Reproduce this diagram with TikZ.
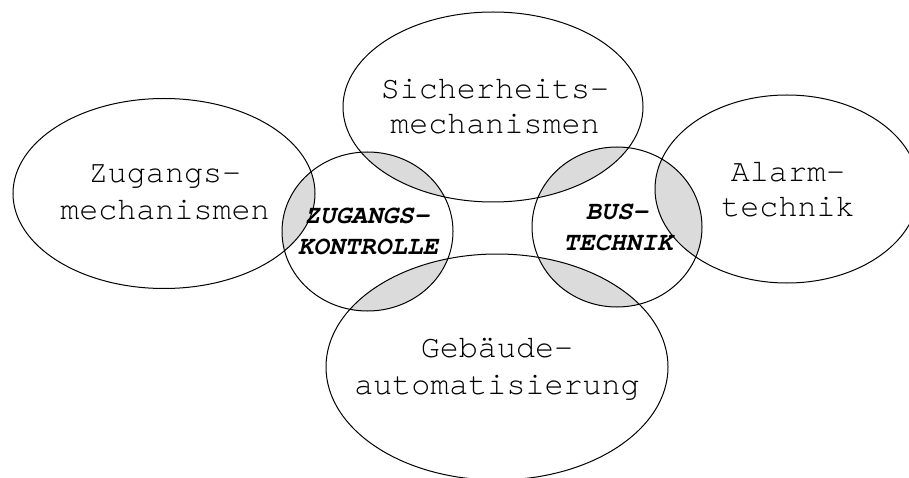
\documentclass[tikz,border=0pt]{standalone}
\usepackage{fontspec}
\setmonofont{TeX Gyre Cursor}
\tikzset{
  outline/.style={draw=black, line width=1pt},
  overlap/.style={fill=black!14},
  biglabel/.style={font=\ttfamily\fontsize{31.7}{36}\selectfont, anchor=base, inner sep=0pt},
  smalllabel/.style={font=\ttfamily\bfseries\itshape\fontsize{26}{31}\selectfont, anchor=base, inner sep=0pt},
}
% outlines of the six areas
\newcommand\zugPath{(164,193.5) ellipse [x radius=151, y radius=95]}
\newcommand\sichPath{(493,107) ellipse [x radius=150, y radius=95]}
\newcommand\alarmPath{(787,189) ellipse [x radius=132, y radius=94]}
\newcommand\gebPath{(497,367) ellipse [x radius=171, y radius=113]}
\newcommand\zkPath{(367.5,231.5) ellipse [x radius=85.5, y radius=79.5]}
\newcommand\busPath{(617,227) ellipse [x radius=85, y radius=80]}
\begin{document}
\begin{tikzpicture}[x=1pt,y=-1pt]
\useasboundingbox (0,0) rectangle (909,478);
\fill[white] (0,0) rectangle (909,478);

% shaded overlaps of the two linking circles
\begin{scope}
  \clip \zkPath;
  \fill[overlap] \zugPath;
  \fill[overlap] \sichPath;
  \fill[overlap] \gebPath;
\end{scope}
\begin{scope}
  \clip \busPath;
  \fill[overlap] \sichPath;
  \fill[overlap] \alarmPath;
  \fill[overlap] \gebPath;
\end{scope}

% outlines
\draw[outline] \zugPath;
\draw[outline] \sichPath;
\draw[outline] \alarmPath;
\draw[outline] \gebPath;
\draw[outline] \zkPath;
\draw[outline] \busPath;

% labels
\node[biglabel] (zugA) at (165,183) {Zugangs-};
\node[biglabel] (zugB) at (165,220) {mechanismen};
\node[biglabel] (sichA) at (495,99) {Sicherheits-};
\node[biglabel] (sichB) at (495,134) {mechanismen};
\node[biglabel] (alarmA) at (788,182) {Alarm-};
\node[biglabel] (alarmB) at (788,217) {technik};
\node[biglabel] (gebA) at (497,357) {Gebäude-};
\node[biglabel] (gebB) at (497,394) {automatisierung};
\node[smalllabel] (zkA) at (367,223) {ZUGANGS-};
\node[smalllabel] (zkB) at (368,254) {KONTROLLE};
\node[smalllabel] (busA) at (617,220) {BUS-};
\node[smalllabel] (busB) at (618,250) {TECHNIK};
\end{tikzpicture}
\end{document}
